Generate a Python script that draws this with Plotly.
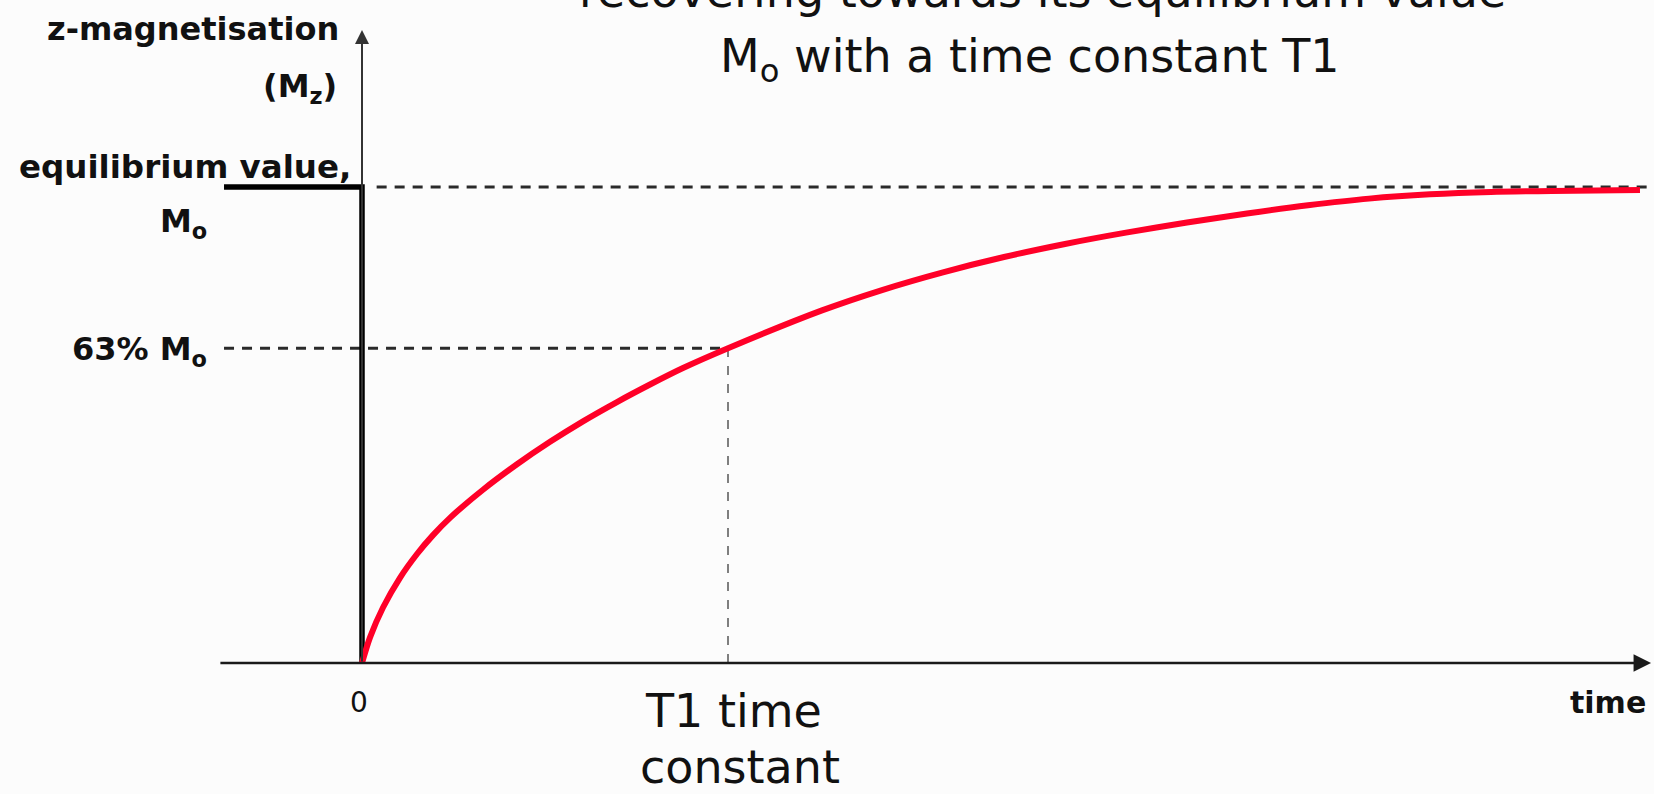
import plotly.graph_objects as go

# ---- data (time in units of T1, Mz as fraction of M0) ----
recovery_time = [0.0, 0.0219, 0.0574, 0.1038, 0.1503, 0.194, 0.2404, 0.3306, 0.4235,
                 0.5137, 0.6038, 0.6967, 0.7869, 0.877, 1.0, 1.2568, 1.4208, 1.5874,
                 1.7541, 1.9208, 2.0874, 2.2541, 2.418, 2.5847, 2.7514, 2.918, 3.0847,
                 3.2514, 3.4918]
recovery_mz = [0.0, 0.0538, 0.1166, 0.179, 0.229, 0.2687, 0.305, 0.364, 0.4175,
               0.4647, 0.5078, 0.5483, 0.5851, 0.6197, 0.6613, 0.7408, 0.7836, 0.8208,
               0.8529, 0.8804, 0.9042, 0.9254, 0.9443, 0.9615, 0.9756, 0.9847, 0.9897,
               0.9916, 0.9937]

pre_pulse_time = [-0.377, 0.0, 0.0]
pre_pulse_mz = [1.0, 1.0, 0.0]

equilibrium_time = [0.04, 3.53]
equilibrium_mz = [1.0, 1.0]

t1_level_time = [-0.377, 1.0]
t1_level_mz = [0.6613, 0.6613]

t1_marker_time = [1.0, 1.0]
t1_marker_mz = [0.0, 0.6613]

x_axis_span = [-0.391, 3.522]
y_axis_span = [0.0, 1.330]

x_range = [-0.9891, 3.5301]
y_range = [-0.2752, 1.3929]

W, H = 1654, 794
FONT = "DejaVu Sans"


def px(x):
    return x / W


def py(y):
    return 1 - y / H


fig = go.Figure()

fig.add_trace(go.Scatter(x=equilibrium_time, y=equilibrium_mz, mode="lines",
                         line=dict(color="#2a2a2a", width=3, dash="10px,8px"),
                         hoverinfo="skip"))
fig.add_trace(go.Scatter(x=t1_level_time, y=t1_level_mz, mode="lines",
                         line=dict(color="#2a2a2a", width=3, dash="10px,8px"),
                         hoverinfo="skip"))
fig.add_trace(go.Scatter(x=t1_marker_time, y=t1_marker_mz, mode="lines",
                         line=dict(color="#555555", width=1.5, dash="9px,9px"),
                         hoverinfo="skip"))
fig.add_trace(go.Scatter(x=pre_pulse_time, y=pre_pulse_mz, mode="lines",
                         line=dict(color="#000000", width=5.5),
                         hoverinfo="skip"))
fig.add_trace(go.Scatter(x=recovery_time, y=recovery_mz, mode="lines",
                         line=dict(color="rgb(255,0,40)", width=6, shape="spline",
                                   smoothing=0.8),
                         hoverinfo="skip"))

annotations = []
# axes as arrows
annotations.append(dict(x=x_axis_span[1], y=0, ax=x_axis_span[0], ay=0,
                        xref="x", yref="y", axref="x", ayref="y", text="",
                        showarrow=True, arrowhead=2, arrowsize=1.4, arrowwidth=2.5,
                        arrowcolor="#1a1a1a"))
annotations.append(dict(x=0, y=y_axis_span[1], ax=0, ay=y_axis_span[0],
                        xref="x", yref="y", axref="x", ayref="y", text="",
                        showarrow=True, arrowhead=2, arrowsize=1.4, arrowwidth=2,
                        arrowcolor="#333333"))


def label(text, x, top, size, anchor="right", bold=False):
    t = "<b>" + text + "</b>" if bold else text
    annotations.append(dict(text=t, x=px(x), y=py(top), xref="paper", yref="paper",
                            xanchor=anchor, yanchor="top", showarrow=False,
                            font=dict(family=FONT, size=size, color="#111111")))


label("z-magnetisation", 341, 8, 32, bold=True)
label("(M<sub>z</sub>)", 339, 65, 32, bold=True)
label("equilibrium value,", 353, 146, 32.5, bold=True)
label("M<sub>o</sub>", 209, 200, 32, bold=True)
label("63% M<sub>o</sub>", 209, 328, 32, bold=True)
label("0", 359, 684, 28, anchor="center")
label("T1 time", 733, 682, 46, anchor="center")
label("constant", 740, 738, 46, anchor="center")
label("time", 1648, 683, 30, bold=True)
label("recovering towards its equilibrium value", 1042, -38, 46, anchor="center")
label("M<sub>o</sub> with a time constant T1", 1030, 27, 46, anchor="center")

fig.update_layout(
    width=W, height=H, autosize=False,
    margin=dict(l=0, r=0, t=0, b=0, pad=0),
    paper_bgcolor="#fcfcfc", plot_bgcolor="#fcfcfc",
    showlegend=False,
    xaxis=dict(range=x_range, visible=False, fixedrange=True),
    yaxis=dict(range=y_range, visible=False, fixedrange=True),
    annotations=annotations,
)

fig.write_html("out.html", config={"displayModeBar": False},
               post_script="document.body.style.margin='0';")
